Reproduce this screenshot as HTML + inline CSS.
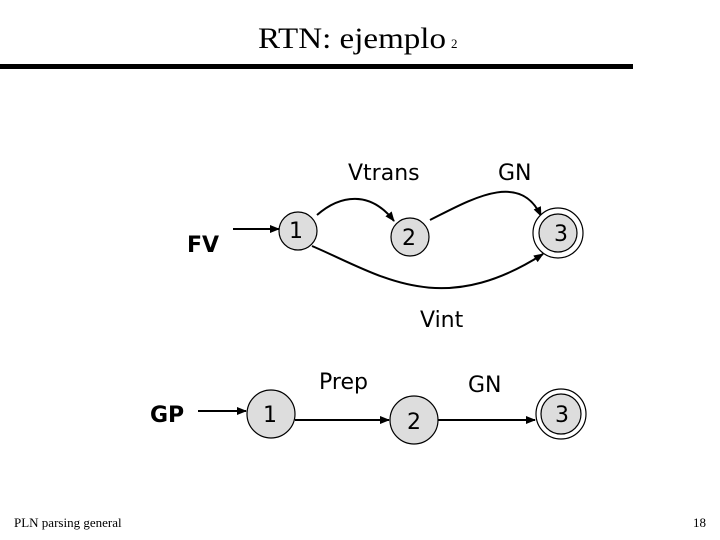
<!DOCTYPE html>
<html><head><meta charset="utf-8"><style>
html,body{margin:0;padding:0;background:#fff;}
svg{display:block;}
</style></head><body>
<svg width="720" height="540" viewBox="0 0 720 540" xmlns="http://www.w3.org/2000/svg">
<defs>
<marker id="a" markerWidth="10" markerHeight="8" refX="9" refY="4" orient="auto" markerUnits="userSpaceOnUse">
<path d="M0,0 L10,4 L0,8 z" fill="#000"/></marker>
</defs>
<text x="258" y="48" font-family="Liberation Serif, serif" font-size="30" textLength="188" lengthAdjust="spacingAndGlyphs">RTN: ejemplo</text>
<text x="451" y="48" font-family="Liberation Serif, serif" font-size="13">2</text>
<rect x="0" y="64" width="633" height="5" fill="#000"/>

<g font-family="DejaVu Sans, sans-serif" font-size="22" fill="#000">
<text x="348" y="180">Vtrans</text>
<text x="498" y="180">GN</text>
<text x="420" y="327">Vint</text>
<text x="187" y="252" font-weight="bold">FV</text>
<text x="319" y="389">Prep</text>
<text x="468" y="392">GN</text>
<text x="150" y="422" font-weight="bold">GP</text>
</g>

<g stroke="#000" stroke-width="2" fill="none">
<line x1="233" y1="229" x2="279" y2="229" marker-end="url(#a)"/>
<path d="M317,215 C340,195 370,190 394,221" marker-end="url(#a)"/>
<path d="M430,220 C470,200 520,170 541,216" marker-end="url(#a)"/>
<path d="M312,246 C380,275 440,320 543,254" marker-end="url(#a)"/>
<line x1="198" y1="411" x2="246" y2="411" marker-end="url(#a)"/>
<line x1="295" y1="420" x2="389" y2="420" marker-end="url(#a)"/>
<line x1="438" y1="420" x2="535" y2="420" marker-end="url(#a)"/>
</g>

<g stroke="#000" stroke-width="1.2" fill="#ddd">
<circle cx="298" cy="231" r="19"/>
<circle cx="410" cy="237" r="19"/>
<circle cx="558" cy="233" r="25" fill="#fff"/>
<circle cx="558" cy="233" r="19"/>
<circle cx="271" cy="414" r="24"/>
<circle cx="414" cy="420" r="24"/>
<circle cx="561" cy="414" r="25" fill="#fff"/>
<circle cx="561" cy="414" r="20"/>
</g>
<g font-family="DejaVu Sans, sans-serif" font-size="22" text-anchor="middle">
<text x="296" y="238">1</text>
<text x="409" y="245">2</text>
<text x="561" y="241">3</text>
<text x="270" y="422">1</text>
<text x="414" y="429">2</text>
<text x="562" y="422">3</text>
</g>
<text x="14" y="527" font-family="Liberation Serif, serif" font-size="13">PLN parsing general</text>
<text x="706" y="527" font-family="Liberation Serif, serif" font-size="13" text-anchor="end">18</text>
</svg>
</body></html>
